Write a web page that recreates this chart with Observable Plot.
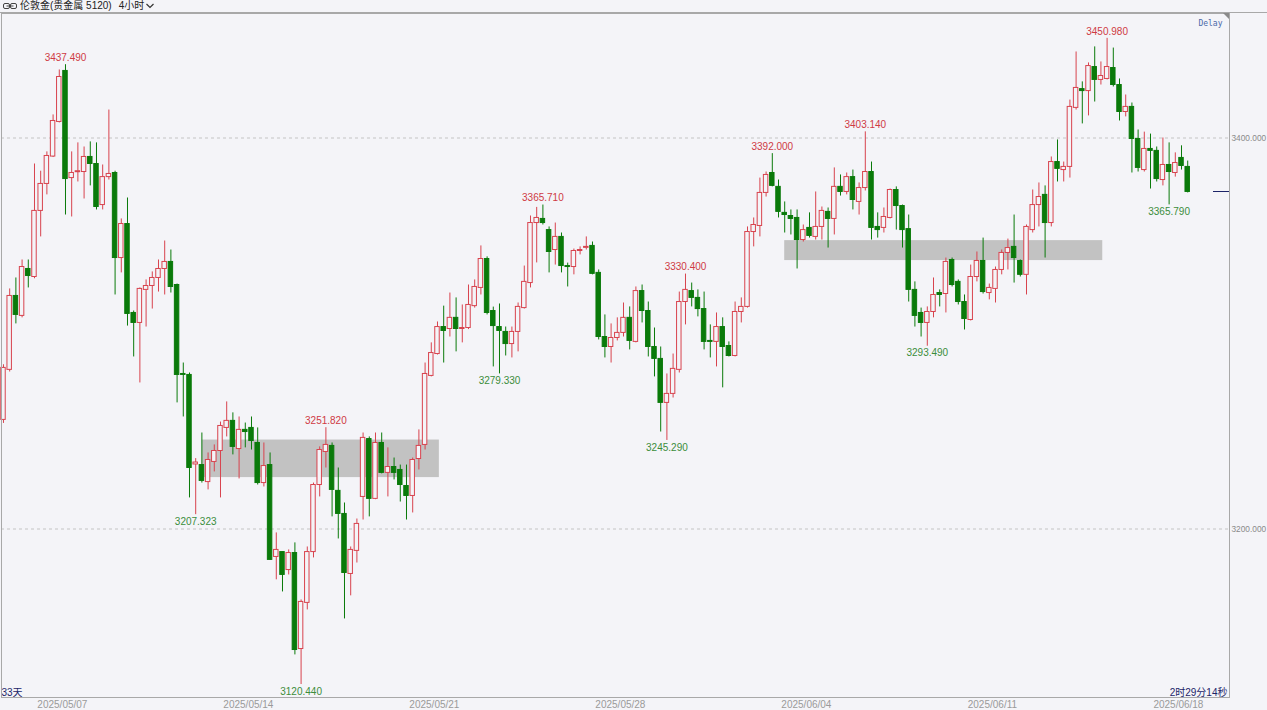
<!DOCTYPE html>
<html>
<head>
<meta charset="utf-8">
<script src="https://cdn.jsdelivr.net/npm/d3@7"></script>
<script src="https://cdn.jsdelivr.net/npm/@observablehq/plot@0.6"></script>
<style>
  html, body { margin: 0; padding: 0; background: #f4f4f8; }
  body { width: 1267px; height: 710px; overflow: hidden;
         font-family: "Liberation Sans", "Noto Sans CJK SC", sans-serif; }
  #bar { height: 12px; border-bottom: 1px solid #a8a8a8; display: flex; align-items: center;
         font-size: 10px; line-height: 12px; color: #222; white-space: nowrap; }
  #bar .link { margin: 0 3px 0 3px; }
  #bar .period { margin-left: 7px; }
  #bar .chev { margin-left: 2px; }
  #chart svg { display: block; }
</style>
</head>
<body>
<div id="bar">
  <svg class="link" width="14" height="8" viewBox="0 0 14 8">
    <rect x="0.5" y="1.5" width="6" height="5" rx="1.5" fill="none" stroke="#444"/>
    <rect x="7.5" y="1.5" width="6" height="5" rx="1.5" fill="none" stroke="#444"/>
    <line x1="3.5" y1="4" x2="10.5" y2="4" stroke="#444"/>
  </svg>
  <span>伦敦金(贵金属 5120)</span>
  <span class="period">4小时</span>
  <svg class="chev" width="8" height="6" viewBox="0 0 8 6">
    <polyline points="0.5,1 4,4.5 7.5,1" fill="none" stroke="#333" stroke-width="1.2"/>
  </svg>
</div>
<div id="chart"></div>
<script>
// 4-hour candles, oldest first
const open = [
  3255.8,3281.4,3319.2,3309.0,3333.0,3328.9,3362.7,3376.5,3390.5,3408.2,
  3434.3,3379.5,3382.5,3382.6,3390.3,3386.7,3365.7,3380.0,3382.1,3338.6,
  3356.0,3310.5,3305.4,3322.3,3324.3,3328.4,3333.0,3336.6,3324.8,3279.3,
  3278.8,3233.0,3232.7,3224.0,3234.3,3239.9,3251.7,3255.3,3240.9,3250.7,
  3251.7,3244.0,3223.5,3232.7,3185.7,3188.2,3179.0,3187.7,3138.6,3162.2,
  3188.2,3222.5,3239.4,3242.5,3219.5,3207.7,3177.0,3188.8,3216.4,3246.0,
  3215.4,3244.0,3228.7,3231.7,3230.2,3222.0,3216.9,3235.8,3243.0,3278.3,
  3289.5,3303.3,3302.3,3308.0,3302.3,3302.8,3314.0,3323.3,3338.1,3311.5,
  3303.3,3300.8,3294.6,3300.8,3313.0,3325.8,3356.5,3358.6,3352.9,3342.7,
  3349.4,3334.5,3334.0,3342.2,3343.8,3344.8,3331.0,3298.2,3293.1,3297.7,
  3300.3,3308.0,3295.7,3321.7,3311.5,3293.1,3287.0,3264.5,3269.1,3281.4,
  3316.1,3321.7,3318.2,3312.5,3296.2,3295.7,3303.3,3293.6,3288.5,3311.0,
  3313.6,3351.9,3355.0,3371.9,3382.1,3375.0,3361.7,3360.1,3359.1,3347.8,
  3354.0,3349.4,3354.5,3362.2,3358.6,3375.0,3372.4,3380.0,3367.3,3374.4,
  3382.6,3354.5,3354.0,3359.1,3373.4,3365.2,3353.4,3322.3,3310.5,3305.4,
  3311.0,3320.7,3320.2,3337.6,3326.4,3316.1,3306.9,3328.9,3337.1,3320.7,
  3322.8,3332.5,3341.2,3344.3,3337.1,3330.0,3352.9,3365.7,3370.9,3356.5,
  3387.7,3383.6,3385.2,3415.4,3425.0,3424.0,3436.3,3429.7,3430.2,3435.8,
  3427.1,3413.3,3415.9,3399.5,3383.6,3394.4,3393.4,3378.5,3386.2,3382.1,
  3389.8,3385.2
];
const high = [
  3284.0,3322.8,3328.4,3337.6,3337.6,3386.7,3383.0,3392.9,3411.8,3434.8,
  3437.49,3392.9,3397.5,3395.4,3398.0,3397.5,3386.2,3414.3,3383.0,3358.6,
  3369.3,3311.5,3323.3,3327.4,3331.5,3337.6,3347.3,3342.7,3325.3,3284.9,
  3279.8,3236.0,3249.1,3238.9,3243.0,3254.7,3265.0,3259.4,3257.3,3254.2,
  3257.3,3251.7,3244.0,3238.9,3198.0,3188.2,3189.3,3192.9,3163.7,3190.8,
  3223.5,3242.0,3251.82,3244.0,3231.2,3213.3,3190.8,3205.1,3249.1,3247.1,
  3249.1,3249.1,3241.5,3236.3,3232.7,3232.7,3236.3,3250.7,3284.9,3295.2,
  3305.9,3314.0,3320.7,3318.2,3314.6,3324.8,3327.4,3344.8,3339.2,3313.5,
  3315.1,3303.3,3303.3,3315.6,3334.5,3360.1,3364.5,3365.71,3354.5,3356.5,
  3351.4,3336.0,3343.2,3344.3,3349.4,3346.8,3332.5,3309.5,3304.9,3308.0,
  3315.6,3313.6,3323.8,3324.8,3316.1,3302.8,3293.1,3279.3,3289.5,3321.2,
  3330.4,3325.8,3322.3,3321.2,3304.4,3310.5,3308.0,3295.7,3316.1,3318.2,
  3354.5,3359.1,3379.5,3382.6,3392.0,3378.5,3367.3,3363.2,3363.2,3355.5,
  3361.7,3372.4,3364.7,3364.2,3384.7,3381.1,3382.1,3383.6,3377.0,3403.14,
  3387.7,3361.7,3364.2,3373.9,3375.0,3365.7,3360.6,3326.4,3313.0,3313.6,
  3328.4,3322.3,3338.6,3338.6,3327.4,3319.7,3335.0,3341.7,3348.8,3325.3,
  3334.0,3342.7,3348.3,3360.6,3337.6,3355.5,3373.4,3377.0,3375.5,3390.3,
  3399.0,3387.7,3419.4,3444.0,3428.7,3438.4,3446.6,3438.9,3450.98,3446.0,
  3430.2,3422.0,3417.9,3404.1,3403.0,3402.0,3395.4,3400.0,3397.5,3392.4,
  3396.0,3388.2
];
const low = [
  3254.0,3280.3,3304.9,3308.0,3323.3,3328.0,3349.4,3370.9,3390.0,3407.7,
  3360.6,3359.6,3377.5,3368.8,3375.5,3363.2,3363.2,3378.5,3319.7,3331.0,
  3303.8,3288.0,3274.7,3303.3,3312.5,3321.2,3319.7,3320.7,3264.5,3257.3,
  3215.9,3207.323,3223.5,3220.0,3229.2,3215.9,3247.1,3237.9,3225.6,3241.5,
  3240.4,3222.5,3221.5,3184.0,3174.0,3167.8,3176.5,3135.6,3120.44,3158.6,
  3185.2,3216.4,3231.2,3206.2,3194.9,3154.0,3165.8,3182.6,3204.6,3206.2,
  3215.0,3228.2,3216.4,3225.1,3213.8,3204.6,3208.2,3230.2,3240.4,3277.8,
  3289.0,3284.9,3298.2,3290.6,3295.2,3302.0,3313.0,3319.7,3309.5,3282.9,
  3279.33,3288.5,3287.5,3290.6,3312.5,3323.3,3336.1,3355.5,3331.0,3335.0,
  3331.0,3323.8,3330.0,3340.2,3342.7,3330.0,3296.7,3287.5,3284.9,3296.2,
  3298.2,3291.6,3295.2,3305.4,3288.0,3277.8,3249.6,3245.29,3267.0,3279.8,
  3304.4,3313.6,3308.5,3291.6,3287.5,3282.9,3272.2,3288.0,3288.0,3305.4,
  3313.0,3344.3,3349.4,3369.8,3375.0,3359.1,3351.4,3350.4,3333.0,3346.8,
  3348.8,3347.8,3347.8,3343.7,3350.4,3370.3,3370.9,3363.2,3360.6,3372.9,
  3347.8,3348.8,3351.4,3358.6,3352.9,3343.7,3316.1,3303.3,3298.2,3293.49,
  3308.0,3313.6,3310.5,3323.8,3314.6,3301.8,3306.4,3326.4,3320.2,3317.2,
  3315.6,3330.0,3332.5,3325.8,3328.9,3319.7,3351.4,3354.5,3338.6,3354.5,
  3377.5,3377.5,3379.5,3414.3,3407.2,3411.3,3418.4,3427.1,3429.7,3426.1,
  3408.7,3410.8,3382.1,3382.6,3382.6,3373.9,3377.5,3375.5,3365.79,3380.0,
  3383.6,3371.9
];
const close = [
  3282.4,3319.2,3309.5,3334.0,3329.4,3362.7,3376.5,3390.8,3408.7,3431.2,
  3379.0,3382.1,3383.0,3390.3,3386.7,3364.7,3380.0,3381.6,3338.6,3356.0,
  3310.0,3305.4,3322.8,3324.3,3328.4,3333.0,3336.6,3323.8,3278.8,3278.8,
  3231.2,3234.0,3224.6,3235.3,3239.9,3252.7,3255.3,3242.0,3250.7,3249.6,
  3245.0,3223.5,3232.2,3184.2,3189.3,3176.5,3187.7,3138.1,3162.7,3188.2,
  3222.5,3240.4,3243.0,3220.0,3207.7,3177.5,3189.3,3202.6,3246.6,3215.4,
  3244.0,3228.7,3231.7,3228.7,3222.5,3216.9,3235.3,3242.5,3279.3,3290.0,
  3303.3,3301.3,3308.0,3302.3,3302.8,3314.6,3323.8,3338.1,3310.5,3303.8,
  3301.3,3294.6,3300.8,3313.6,3326.4,3356.5,3359.1,3356.5,3341.7,3349.4,
  3334.5,3334.0,3342.2,3342.7,3344.3,3330.5,3298.2,3293.1,3297.7,3300.3,
  3308.0,3296.2,3321.7,3311.5,3293.1,3287.0,3264.5,3269.1,3281.9,3316.1,
  3322.3,3318.2,3312.5,3295.7,3295.7,3303.3,3293.1,3288.5,3311.0,3313.6,
  3351.9,3355.5,3371.9,3381.1,3375.5,3362.2,3360.6,3358.6,3347.8,3352.9,
  3349.9,3354.5,3362.7,3358.6,3375.0,3372.4,3380.0,3368.3,3374.4,3382.6,
  3354.0,3352.9,3359.6,3373.4,3365.2,3352.9,3322.3,3309.0,3305.4,3311.0,
  3319.7,3319.7,3336.6,3324.8,3316.1,3307.4,3328.9,3337.1,3321.2,3323.3,
  3332.5,3341.2,3343.7,3338.6,3330.0,3354.5,3365.7,3369.8,3356.5,3387.7,
  3384.2,3385.2,3415.9,3425.6,3424.0,3436.8,3429.7,3431.7,3436.3,3427.1,
  3413.3,3415.9,3399.5,3384.7,3394.4,3393.4,3379.0,3386.2,3382.6,3387.2,
  3385.7,3372.4
];

// date labels on the time axis (candle positions)
const dateTicks  = [9.5, 39.5, 69.5, 99.5, 129.5, 159.5, 189.5];
const dateLabels = ["2025/05/07", "2025/05/14", "2025/05/21", "2025/05/28",
                    "2025/06/04", "2025/06/11", "2025/06/18"];

// price gridlines
const priceTicks = [3200, 3400];

// shaded consolidation zones (candle range, price band)
const zoneStart  = [32.05, 126];
const zoneEnd    = [70.3, 177.3];
const zoneTop    = [3245.5, 3347.5];
const zoneBottom = [3226.3, 3337.3];

// annotated swing highs and lows (candle index, which extreme)
const swingIndex = [10, 31, 48, 52, 80, 87, 107, 110, 124, 139, 149, 178, 188];
const swingKind  = ["high","low","low","high","low","high","low","high","high","high","low","high","low"];

const RED = "#d8434e", GREEN = "#0a7a0a", BG = "#f4f4f8";
const FONT = "Liberation Sans, Noto Sans CJK SC, sans-serif";

const candles = open.map((o, i) => ({i, o, h: high[i], l: low[i], c: close[i]}));
const up = candles.filter(d => d.c >= d.o);
const down = candles.filter(d => d.c < d.o);

const zones = zoneStart.map((s, k) => ({s, e: zoneEnd[k], t: zoneTop[k], b: zoneBottom[k]}));

const swings = swingIndex.map((i, k) => ({
  i, kind: swingKind[k], v: swingKind[k] === "high" ? high[i] : low[i]
}));

const W = 1267, H = 697, ML = 1, MR = 38, MT = 0, MB = 13;

const chart = Plot.plot({
  width: W, height: H,
  marginLeft: ML, marginRight: MR, marginTop: MT, marginBottom: MB,
  style: {background: "transparent", fontFamily: FONT, overflow: "visible"},
  x: {type: "linear", domain: [-0.32, 197.74]},
  y: {domain: [3113.81, 3463.68]},
  marks: [
    Plot.ruleY(priceTicks, {stroke: "#c4c4c4", strokeDasharray: "3,3"}),
    Plot.rect(zones, {x1: "s", x2: "e", y1: "b", y2: "t", fill: "#c2c2c2"}),
    Plot.ruleX(up,   {x: "i", y1: "l", y2: "h", stroke: RED, strokeWidth: 1}),
    Plot.ruleX(down, {x: "i", y1: "l", y2: "h", stroke: GREEN, strokeWidth: 1}),
    Plot.rect(up,   {x1: d => d.i - 0.36, x2: d => d.i + 0.36, y1: "o", y2: "c",
                     fill: BG, stroke: RED, strokeWidth: 1}),
    Plot.rect(down, {x1: d => d.i - 0.36, x2: d => d.i + 0.36, y1: "o", y2: "c",
                     fill: GREEN, stroke: GREEN, strokeWidth: 1}),
    Plot.text(swings.filter(d => d.kind === "high"), {
      x: "i", y: "v", text: d => d.v.toFixed(3), dy: -7, lineAnchor: "middle",
      fill: "#cf3a44", fontSize: 10
    }),
    Plot.text(swings.filter(d => d.kind === "low"), {
      x: "i", y: "v", text: d => d.v.toFixed(3), dy: 7, lineAnchor: "middle",
      fill: "#3b8d3b", fontSize: 10
    }),
    Plot.axisY({anchor: "right", ticks: priceTicks, tickFormat: d => d.toFixed(3),
                tickSize: 0, tickPadding: 2, fontSize: 8.3, fill: "#8a8a8a", label: null}),
    Plot.axisX({ticks: dateTicks, tickFormat: d => dateLabels[dateTicks.indexOf(d)],
                tickSize: 0, tickPadding: 3, fontSize: 10, fill: "#9a9a9a", label: null}),
    Plot.text(["Delay"], {frameAnchor: "top-right", dx: -7, dy: 7, fontSize: 8,
                          fontFamily: "DejaVu Sans Mono, monospace", fill: "#4a68a8"}),
    Plot.text(["33天"], {frameAnchor: "bottom-left", textAnchor: "start", lineAnchor: "bottom",
                        dx: 0, dy: -2, fontSize: 10, fill: "#1c2468"}),
    Plot.text(["2时29分14秒"], {frameAnchor: "bottom-right", textAnchor: "end", lineAnchor: "bottom",
                           dx: -2, dy: -2, fontSize: 10, fill: "#1c2468"}),
    Plot.frame({stroke: "#a8a8a8"})
  ]
});

document.getElementById("chart").appendChild(chart);

// last-price marker on the right edge and the corner tab
const svg = d3.select(chart);
const yLast = chart.scale("y").apply(close[close.length - 1]);
const xr = W - MR;
svg.append("line")
  .attr("x1", xr - 16).attr("x2", xr)
  .attr("y1", Math.round(yLast) + 0.5).attr("y2", Math.round(yLast) + 0.5)
  .attr("stroke", "#1c2468").attr("stroke-width", 1);
svg.append("path")
  .attr("d", `M${xr - 6},${MT} L${xr},${MT} L${xr},${MT + 6} Z`)
  .attr("fill", "#8a8a8a");
</script>
</body>
</html>
